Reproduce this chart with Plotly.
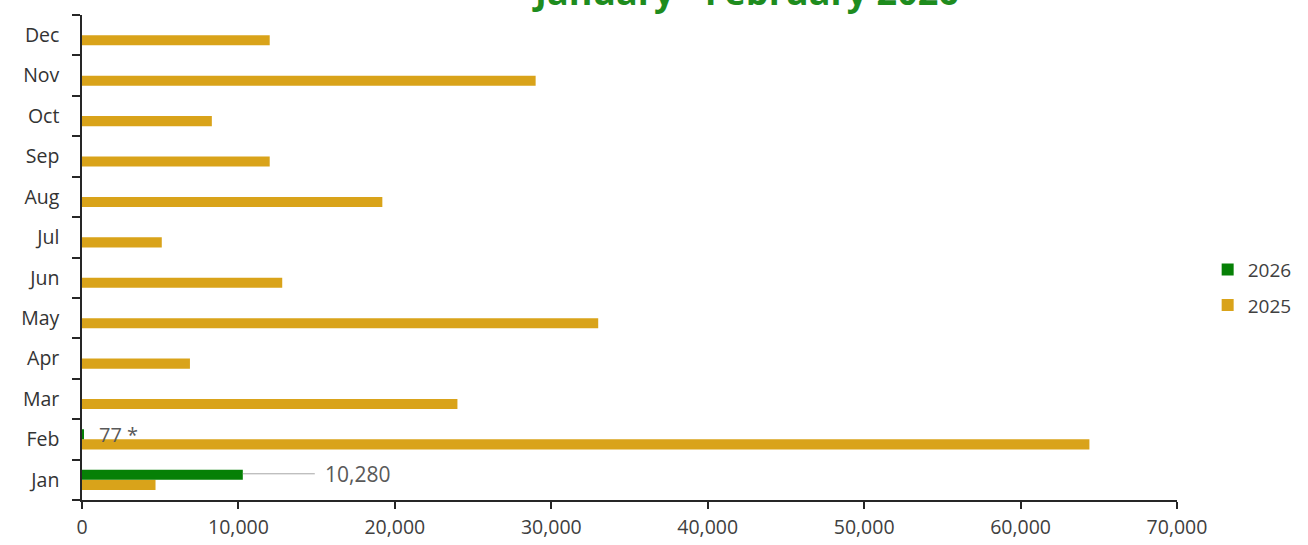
import plotly.graph_objects as go

months = ["Jan", "Feb", "Mar", "Apr", "May", "Jun", "Jul", "Aug", "Sep", "Oct", "Nov", "Dec"]
values_2025 = [4700, 64400, 24000, 6900, 33000, 12800, 5100, 19200, 12000, 8300, 29000, 12000]
values_2026 = [10280, 77, None, None, None, None, None, None, None, None, None, None]
labels_2026 = ["10,280", "77 *"]
x_ticks = [0, 10000, 20000, 30000, 40000, 50000, 60000, 70000]
title_text = "January - February 2026"

GOLD = "#D9A31A"
GREEN = "#068006"
FONT = "Open Sans"

fig = go.Figure()
fig.add_trace(go.Bar(y=months, x=values_2025, orientation="h", name="2025",
                     marker=dict(color=GOLD, line=dict(width=0)),
                     legendgroup="g2025", legendrank=2))
fig.add_trace(go.Bar(y=months, x=values_2026, orientation="h", name="2026",
                     marker=dict(color=GREEN, line=dict(width=0)),
                     legendgroup="g2026", legendrank=1))

# data label with leader line for Jan 2026
fig.add_annotation(x=values_2026[0], y=months[0], xref="x", yref="y", yshift=6,
                   text=labels_2026[0], showarrow=True, arrowhead=0, arrowwidth=1,
                   arrowcolor="#A6A6A6", ax=80, ay=0, xanchor="left",
                   startstandoff=8,
                   font=dict(family=FONT, size=21, color="#595959"))
# data label for Feb 2026
fig.add_annotation(x=values_2026[1], y=months[1], xref="x", yref="y", yshift=5,
                   xshift=14, text=labels_2026[1], showarrow=False, xanchor="left",
                   font=dict(family=FONT, size=20, color="#595959"))
# title (partially cut at the top)
fig.add_annotation(x=0.606, y=1.049, xref="paper", yref="paper", text="<b>" + title_text + "</b>",
                   showarrow=False, xanchor="center", yanchor="middle",
                   font=dict(family=FONT, size=36, color="#1E8C1E"))

fig.update_layout(
    width=1308, height=545,
    margin=dict(l=82, r=131, t=15, b=45, autoexpand=False),
    paper_bgcolor="white", plot_bgcolor="white",
    barmode="group", bargap=0.5, bargroupgap=0,
    font=dict(family=FONT, size=19, color="#404040"),
    showlegend=True,
    legend=dict(x=1.028, y=0.438, xanchor="left", yanchor="middle",
                traceorder="grouped", tracegroupgap=8,
                font=dict(family=FONT, size=19, color="#404040"),
                bgcolor="rgba(0,0,0,0)", itemwidth=30),
    xaxis=dict(range=[0, 70000], tickvals=x_ticks, tickformat=",", showgrid=False,
               zeroline=False, showline=True, linecolor="#262626", linewidth=1.5,
               ticks="outside", ticklen=7, tickcolor="#262626", tickwidth=1.5,
               automargin=False, ticklabelstandoff=2,
               tickfont=dict(family=FONT, size=19.5, color="#404040")),
    yaxis=dict(type="category", categoryorder="array", categoryarray=months,
               showgrid=False, zeroline=False, showline=True, linecolor="#262626",
               linewidth=1.5, ticks="outside", ticklen=8, tickcolor="#262626",
               tickwidth=1.5, tickson="boundaries", ticklabelstandoff=17,
               automargin=False,
               tickfont=dict(family=FONT, size=19.5, color="#333333")),
)

fig.write_html("out.html", config={"displayModeBar": False},
               post_script="document.body.style.margin='0';document.body.style.overflow='hidden';")
